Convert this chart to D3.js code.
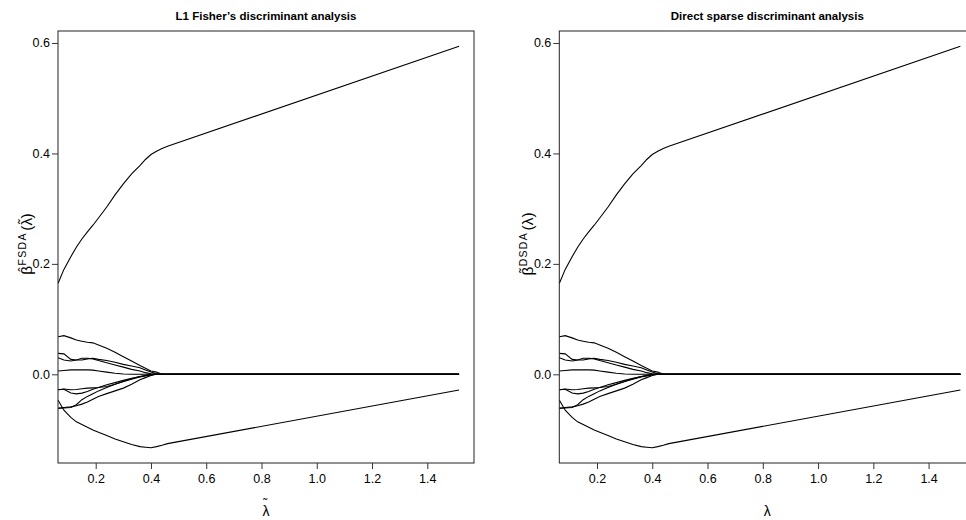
<!DOCTYPE html>
<html>
<head>
<meta charset="utf-8">
<script src="https://cdn.jsdelivr.net/npm/d3@7"></script>
<style>
  body { margin: 0; background: #fff; }
  svg text { font-family: "Liberation Sans Narrow", "Liberation Sans", Arial, sans-serif; font-stretch: condensed; }
</style>
</head>
<body>
<div id="chart"></div>
<script>
// lambda grid and coefficient paths
var lambda = [0.064, 0.085, 0.11, 0.13, 0.15, 0.17, 0.19, 0.21, 0.24, 0.27, 0.30, 0.33, 0.36, 0.38, 0.40, 0.42, 0.44, 0.46, 1.515];

var betaTop    = [0.165, 0.190, 0.213, 0.230, 0.245, 0.258, 0.270, 0.283, 0.303, 0.325, 0.345, 0.363, 0.378, 0.389, 0.398, 0.404, 0.409, 0.413, 0.594];
var betaBottom = [-0.047, -0.065, -0.078, -0.086, -0.091, -0.096, -0.101, -0.105, -0.111, -0.117, -0.122, -0.127, -0.131, -0.132, -0.133, -0.131, -0.1285, -0.1255, -0.0284];
var betaA  = [0.068, 0.070, 0.066, 0.062, 0.060, 0.058, 0.057, 0.053, 0.047, 0.040, 0.032, 0.024, 0.016, 0.011, 0.006, 0.004, 0, 0, 0];
var betaB1 = [0.038, 0.037, 0.027, 0.026, 0.026, 0.028, 0.029, 0.027, 0.025, 0.022, 0.018, 0.015, 0.012, 0.008, 0.004, 0.001, 0, 0, 0];
var betaB2 = [0.030, 0.026, 0.024, 0.026, 0.029, 0.029, 0.028, 0.025, 0.021, 0.017, 0.013, 0.009, 0.006, 0.003, 0.001, 0, 0, 0, 0];
var betaC  = [0.006, 0.007, 0.008, 0.008, 0.008, 0.008, 0.0075, 0.006, 0.004, 0.002, 0.0005, 0, 0, 0, 0, 0, 0, 0, 0];
var betaD  = [-0.028, -0.0266, -0.028, -0.0275, -0.026, -0.025, -0.0245, -0.024, -0.022, -0.018, -0.013, -0.009, -0.005, -0.003, -0.001, 0, 0, 0, 0];
var betaE  = [-0.028, -0.027, -0.034, -0.0355, -0.034, -0.031, -0.027, -0.024, -0.019, -0.015, -0.011, -0.007, -0.004, -0.002, -0.0005, 0, 0, 0, 0];
var betaG  = [-0.062, -0.061, -0.060, -0.055, -0.046, -0.040, -0.035, -0.030, -0.024, -0.018, -0.013, -0.008, -0.004, -0.002, 0, 0, 0, 0, 0];
var betaH  = [-0.061, -0.060, -0.059, -0.057, -0.054, -0.050, -0.045, -0.040, -0.035, -0.030, -0.025, -0.018, -0.010, -0.006, -0.002, 0, 0, 0, 0];

var paths = [betaTop, betaBottom, betaA, betaB1, betaB2, betaC, betaD, betaE, betaG, betaH];

var xTicks = [0.2, 0.4, 0.6, 0.8, 1.0, 1.2, 1.4];
var yTicks = [0.0, 0.2, 0.4, 0.6];
var titles = ["L1 Fisher\u2019s discriminant analysis", "Direct sparse discriminant analysis"];

var canvasWidth = 966;
var canvasHeight = 520;

var svg = d3.select("#chart")
    .append("svg")
    .attr("width", canvasWidth)
    .attr("height", canvasHeight);

var panelW = 416, panelH = 432, plotTop = 31;
var lefts = [58, 559.3];

function drawPanel(i) {
    var left = lefts[i];
    var x = d3.scaleLinear().domain([0.0636, 1.569]).range([left, left + panelW]);
    var y = d3.scaleLinear().domain([-0.1606, 0.6217]).range([plotTop + panelH, plotTop]);

    var g = svg.append("g");

    var line = d3.line()
        .x(function(d, k) { return x(lambda[k]); })
        .y(function(d) { return y(d); });

    g.selectAll("path.coef")
        .data(paths)
        .join("path")
        .attr("class", "coef")
        .attr("d", line)
        .attr("fill", "none")
        .attr("stroke", "#000")
        .attr("stroke-width", 1.1);

    // box
    g.append("rect")
        .attr("x", left)
        .attr("y", plotTop)
        .attr("width", panelW)
        .attr("height", panelH)
        .attr("fill", "none")
        .attr("stroke", "#222")
        .attr("stroke-width", 1);

    var xAxis = d3.axisBottom(x).tickValues(xTicks).tickSize(6).tickPadding(5)
        .tickFormat(d3.format(".1f"));
    var gx = g.append("g")
        .attr("transform", "translate(0," + (plotTop + panelH) + ")")
        .call(xAxis);
    gx.select(".domain").remove();

    var yAxis = d3.axisLeft(y).tickValues(yTicks).tickSize(6).tickPadding(2)
        .tickFormat(d3.format(".1f"));
    var gy = g.append("g")
        .attr("transform", "translate(" + left + ",0)")
        .call(yAxis);
    gy.select(".domain").remove();

    [gx, gy].forEach(function(a) {
        a.attr("font-family", null).attr("font-size", null);
        a.selectAll("text").attr("font-size", 12.5).attr("fill", "#000");
        a.selectAll(".tick line").attr("stroke", "#333");
    });

    // title
    g.append("text")
        .attr("x", left + panelW / 2)
        .attr("y", 20)
        .attr("text-anchor", "middle")
        .attr("font-weight", "bold")
        .attr("font-size", 11.5)
        .text(titles[i]);

    // x label (lambda, with tilde on the left panel)
    var cx = left + panelW / 2;
    var xl = g.append("text")
        .attr("x", cx)
        .attr("y", 516)
        .attr("text-anchor", "middle")
        .attr("font-size", 14);
    xl.append("tspan").text("\u03BB");
    if (i === 0) {
        xl.append("tspan").attr("dx", -6.2).attr("dy", -8).attr("font-size", 12).text("\u02DC");
    }

    // y label
    var yl = g.append("text")
        .attr("transform", "translate(" + (left - 26) + ",244) rotate(-90)")
        .attr("text-anchor", "middle")
        .attr("font-size", 15.5);
    yl.append("tspan").text("\u03B2");
    yl.append("tspan").attr("dx", -6).attr("dy", -4).attr("font-size", 13)
        .text(i === 0 ? "\u02C6" : "\u02DC");
    yl.append("tspan").attr("dx", 2).attr("dy", -2).attr("font-size", 10.5).attr("letter-spacing", 1.3)
        .text(i === 0 ? "FSDA" : "DSDA");
    yl.append("tspan").attr("dy", 6).attr("dx", 1.5).text("(\u03BB");
    if (i === 0) {
        yl.append("tspan").attr("dx", -6).attr("dy", -4.5).attr("font-size", 13).text("\u02DC");
        yl.append("tspan").attr("dx", 1).attr("dy", 4.5).text(")");
    } else {
        yl.append("tspan").text(")");
    }
}

drawPanel(0);
drawPanel(1);
</script>
</body>
</html>
